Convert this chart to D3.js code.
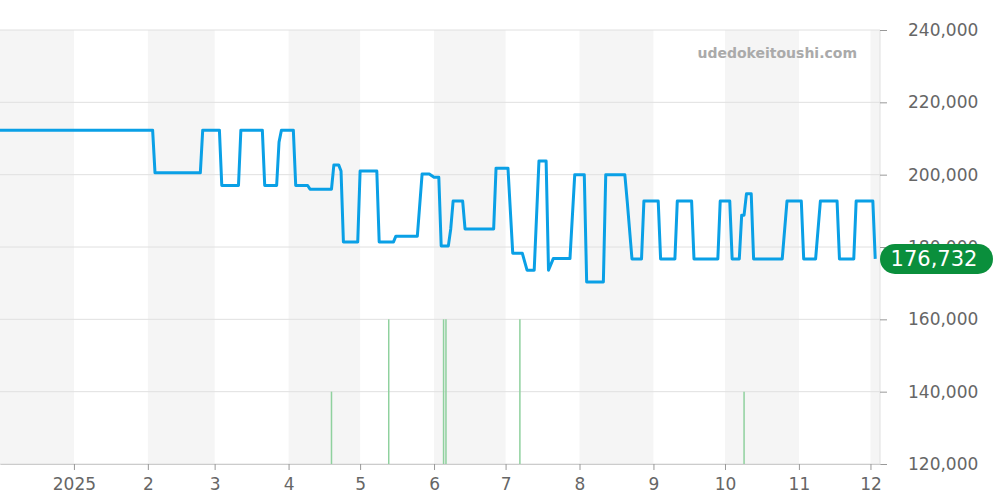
<!DOCTYPE html>
<html><head><meta charset="utf-8">
<script src="https://cdn.jsdelivr.net/npm/d3@7"></script>
<style>body{margin:0;background:#fff}svg{display:block}svg text{font-family:"DejaVu Sans",sans-serif}</style>
</head><body><svg id="c" width="1000" height="500"></svg>
<script>
const priceDates = ["2024-12-01","2025-02-03","2025-02-04","2025-02-23","2025-02-24","2025-03-03","2025-03-04","2025-03-11","2025-03-12","2025-03-21","2025-03-22","2025-03-27","2025-03-28","2025-03-29","2025-04-03","2025-04-04","2025-04-09","2025-04-10","2025-04-19","2025-04-20","2025-04-22","2025-04-23","2025-04-24","2025-04-30","2025-05-01","2025-05-08","2025-05-09","2025-05-15","2025-05-16","2025-05-25","2025-05-27","2025-05-30","2025-06-01","2025-06-03","2025-06-04","2025-06-07","2025-06-08","2025-06-09","2025-06-13","2025-06-14","2025-06-26","2025-06-27","2025-07-02","2025-07-04","2025-07-08","2025-07-10","2025-07-13","2025-07-15","2025-07-18","2025-07-19","2025-07-21","2025-07-28","2025-07-30","2025-08-03","2025-08-04","2025-08-11","2025-08-12","2025-08-20","2025-08-21","2025-08-23","2025-08-27","2025-08-28","2025-09-03","2025-09-04","2025-09-10","2025-09-11","2025-09-17","2025-09-18","2025-09-28","2025-09-29","2025-10-03","2025-10-04","2025-10-07","2025-10-08","2025-10-09","2025-10-10","2025-10-12","2025-10-13","2025-10-25","2025-10-27","2025-11-02","2025-11-03","2025-11-08","2025-11-10","2025-11-17","2025-11-18","2025-11-24","2025-11-25","2025-12-02","2025-12-03"];
const prices = [212300,212300,200500,200500,212300,212300,197000,197000,212300,212300,197000,197000,209000,212300,212300,197000,197000,196000,196000,202700,202700,201000,181400,181400,201000,201000,181400,181400,183000,183000,200200,200200,199300,199300,180300,180300,185000,192700,192700,185000,185000,201800,201800,178300,178300,173600,173600,203800,203800,173600,176800,176800,200000,200000,170300,170300,200000,200000,192700,176700,176700,192700,192700,176700,176700,192700,192700,176700,176700,192700,192700,176700,176700,188800,188800,194700,194700,176700,176700,192700,192700,176700,176700,192700,192700,176700,176700,192700,192700,176700];
const volDates = ["2025-04-19","2025-05-13","2025-06-05","2025-06-06","2025-07-07","2025-10-09"];
const volCounts = [1,2,2,2,2,1];
const yTicks = [120000,140000,160000,180000,200000,220000,240000];
const monthLabels = ["2025","2","3","4","5","6","7","8","9","10","11","12"];
const lastPrice = "176,732";

const p = d3.timeParse("%Y-%m-%d");
const svg = d3.select("#c");
const x = d3.scaleTime().domain([p("2024-12-01"), p("2025-12-05")]).range([0, 880]);
const y = d3.scaleLinear().domain([120000, 240000]).range([464, 30]);
const vy = d3.scaleLinear().domain([0, 2]).range([464, 319.3]);

const months = d3.timeMonth.range(p("2024-12-01"), p("2025-12-06"));
months.forEach((m, i) => {
  if (i % 2 === 0) {
    const x0 = x(m), x1 = Math.min(880, x(d3.timeMonth.offset(m, 1)));
    svg.append("rect").attr("x", x0).attr("y", 30).attr("width", x1 - x0).attr("height", 434).attr("fill", "#f5f5f5");
  }
});
svg.append("g").selectAll("line").data(yTicks).join("line")
  .attr("x1", 0).attr("x2", 880).attr("y1", d => y(d)).attr("y2", d => y(d)).attr("stroke", "#e0e0e0");
svg.append("line").attr("x1", 880).attr("x2", 880).attr("y1", 30).attr("y2", 464).attr("stroke", "#e0e0e0");

const ya = d3.axisRight(y).tickValues(yTicks).tickSize(7).tickPadding(21).tickFormat(d3.format(","));
const gy = svg.append("g").attr("transform", "translate(880,0)").call(ya);
gy.select(".domain").remove();
gy.selectAll("line").attr("stroke", "#999");
gy.selectAll("text").attr("fill", "#666").attr("font-size", 17);

const tickDates = d3.timeMonth.range(p("2025-01-01"), p("2025-12-02"));
const xa = d3.axisBottom(x).tickValues(tickDates).tickSize(6).tickSizeOuter(0).tickPadding(8).tickFormat((d, i) => monthLabels[i]);
const gx = svg.append("g").attr("transform", "translate(0,464)").call(xa);
gx.select(".domain").attr("stroke", "#ccc");
gx.selectAll("line").attr("stroke", "#999");
gx.selectAll("text").attr("fill", "#666").attr("font-size", 17);

svg.append("g").selectAll("line").data(volDates).join("line")
  .attr("x1", d => x(p(d))).attr("x2", d => x(p(d)))
  .attr("y1", 464).attr("y2", (d, i) => vy(volCounts[i]))
  .attr("stroke", "#8fd19e").attr("stroke-width", 1.5);

const line = d3.line().x((d, i) => x(p(priceDates[i]))).y(d => y(d));
svg.append("path").datum(prices).attr("d", line).attr("fill", "none")
  .attr("stroke", "#0aa0e6").attr("stroke-width", 3).attr("stroke-linejoin", "round");

svg.append("text").attr("x", 857).attr("y", 58).attr("text-anchor", "end")
  .attr("font-size", 14).attr("font-weight", "bold").attr("fill", "#aaa").text("udedokeitoushi.com");

const ly = y(prices[prices.length - 1]);
svg.append("rect").attr("x", 880).attr("y", ly - 15).attr("width", 113).attr("height", 30).attr("rx", 15)
  .attr("fill", "#0a8f3c");
svg.append("text").attr("x", 934).attr("y", ly + 7.5).attr("text-anchor", "middle").attr("fill", "#fff")
  .attr("font-size", 21).text(lastPrice);
</script></body></html>
